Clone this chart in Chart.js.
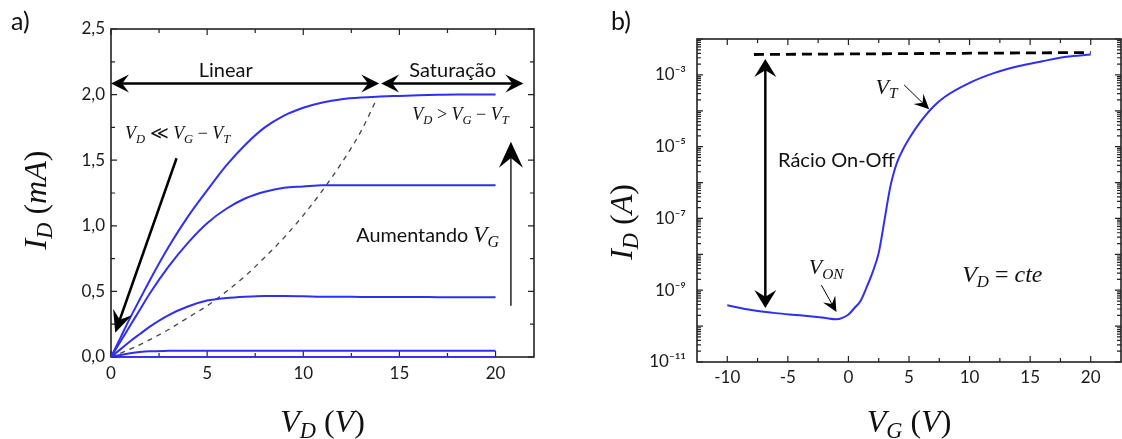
<!DOCTYPE html>
<html>
<head>
<meta charset="utf-8">
<script src="https://cdn.jsdelivr.net/npm/chart.js@4"></script>
<style>
    body { margin: 0; background: #fff; }
    .panel { position: absolute; top: 0; width: 561px; height: 439px; }
    #panel-a { left: 0; }
    #panel-b { left: 561px; }
</style>
</head>
<body>
<div class="panel" id="panel-a"><canvas id="output-chart"></canvas></div>
<div class="panel" id="panel-b"><canvas id="transfer-chart"></canvas></div>
<script>
// Panel a) - output curves I_D (mA) vs V_D (V), one per gate voltage
const vdValues = [0, 0.5, 1, 1.5, 2, 3, 4, 5, 6, 7, 8, 9, 10, 11, 12, 13, 14, 15, 16, 17, 18, 19, 20];
const idVg1 = [0, 0.15, 0.30, 0.44, 0.58, 0.84, 1.07, 1.27, 1.46, 1.62, 1.75, 1.84, 1.90, 1.94, 1.965, 1.978, 1.985, 1.99, 1.995, 1.998, 2.0, 2.0, 2.0];
const idVg2 = [0, 0.12, 0.24, 0.36, 0.48, 0.69, 0.87, 1.02, 1.13, 1.21, 1.26, 1.29, 1.30, 1.31, 1.31, 1.31, 1.31, 1.31, 1.31, 1.31, 1.31, 1.31, 1.31];
const idVg3 = [0, 0.06, 0.12, 0.175, 0.23, 0.32, 0.385, 0.43, 0.45, 0.46, 0.465, 0.465, 0.463, 0.46, 0.46, 0.458, 0.458, 0.457, 0.457, 0.456, 0.456, 0.455, 0.455];
const idVg4 = [0, 0.015, 0.028, 0.038, 0.044, 0.047, 0.048, 0.048, 0.048, 0.048, 0.048, 0.048, 0.048, 0.048, 0.048, 0.048, 0.047, 0.047, 0.047, 0.047, 0.047, 0.047, 0.047];
const idVg5 = [0, 0, 0, 0, 0, 0, 0, 0, 0, 0, 0, 0, 0, 0, 0, 0, 0, 0, 0, 0, 0, 0, 0];

// Saturation boundary (dashed)
const vdBoundary = [0, 1, 2, 3, 4, 5, 6, 7, 8, 9, 10, 11, 12, 13, 13.8];
const idBoundary = [0, 0.06, 0.13, 0.21, 0.30, 0.39, 0.50, 0.62, 0.76, 0.91, 1.08, 1.27, 1.48, 1.72, 1.96];

// Panel b) - transfer curve I_D (A) vs V_G (V), V_D constant
const vgValues = [-10, -8, -6, -4, -2, -1, -0.5, 0, 0.5, 1, 1.5, 2, 2.5, 3, 3.25, 3.5, 3.75, 4, 4.5, 5, 6, 7, 8, 10, 12, 14, 16, 18, 20];
const idTransfer = [3.8e-10, 2.8e-10, 2.3e-10, 2.0e-10, 1.7e-10, 1.55e-10, 1.7e-10, 2.1e-10, 3.2e-10, 5.0e-10, 1.2e-9, 3.2e-9, 1.1e-8, 1.0e-7, 3.2e-7, 8.9e-7, 1.9e-6, 3.55e-6, 8.3e-6, 1.66e-5, 5.2e-5, 1.3e-4, 2.5e-4, 6.0e-4, 1.12e-3, 1.74e-3, 2.4e-3, 3.2e-3, 3.7e-3];

// On-current level (dashed)
const vgOnLevel = [-7.8, 20];
const idOnLevel = [3.7e-3, 4.2e-3];

// Tick values
const xTicksA = [0, 5, 10, 15, 20];
const xMinorA = [2.5, 7.5, 12.5, 17.5];
const yTicksA = [0, 0.5, 1, 1.5, 2, 2.5];
const yMinorA = [0.25, 0.75, 1.25, 1.75, 2.25];
const xTicksB = [-10, -5, 0, 5, 10, 15, 20];
const xMinorB = [-7.5, -2.5, 2.5, 7.5, 12.5, 17.5];
const yDecadesB = [1e-11, 1e-10, 1e-9, 1e-8, 1e-7, 1e-6, 1e-5, 1e-4, 1e-3, 1e-2];
const yLabelledExpB = [-11, -9, -7, -5, -3];

const BLUE = '#2f2ff2';
const TICK_FONT = { family: 'Lato, "Noto Sans", "DejaVu Sans"', size: 17 };
const SERIF = '"Liberation Serif", "DejaVu Serif", serif';
const SANS = 'Lato, "Noto Sans", sans-serif';

const SUP = { '-': '\u207B', '0': '\u2070', '1': '\u00B9', '2': '\u00B2', '3': '\u00B3', '4': '\u2074', '5': '\u2075', '6': '\u2076', '7': '\u2077', '8': '\u2078', '9': '\u2079' };

function toPoints(xs, ys) {
    return xs.map((x, i) => ({ x: x, y: ys[i] }));
}

// Concave (barbed) arrow head with tip at (x, y)
function arrowHead(ctx, x, y, ang, len, half) {
    const c = Math.cos(ang), s = Math.sin(ang);
    const bx = x - len * c, by = y - len * s;
    const mx = x - len * 0.62 * c, my = y - len * 0.62 * s;
    ctx.beginPath();
    ctx.moveTo(x, y);
    ctx.lineTo(bx - s * half, by + c * half);
    ctx.lineTo(mx, my);
    ctx.lineTo(bx + s * half, by - c * half);
    ctx.closePath();
    ctx.fill();
}

function arrow(ctx, x1, y1, x2, y2, lw, len, half, both) {
    const ang = Math.atan2(y2 - y1, x2 - x1);
    const c = Math.cos(ang), s = Math.sin(ang);
    const cut = len * 0.6;
    ctx.lineWidth = lw;
    ctx.beginPath();
    ctx.moveTo(both ? x1 + c * cut : x1, both ? y1 + s * cut : y1);
    ctx.lineTo(x2 - c * cut, y2 - s * cut);
    ctx.stroke();
    arrowHead(ctx, x2, y2, ang, len, half);
    if (both) arrowHead(ctx, x1, y1, ang + Math.PI, len, half);
}

// Mixed text: [text, style] with style i = italic serif, s = italic subscript, r = upright serif, n = sans
function richText(ctx, parts, x, yc, size, align) {
    const fontFor = st => st === 's' ? 'italic ' + (size * 0.7) + 'px ' + SERIF
        : st === 'r' ? size + 'px ' + SERIF
        : st === 'n' ? (size * 0.86) + 'px ' + SANS
        : 'italic ' + size + 'px ' + SERIF;
    let w = 0;
    parts.forEach(p => { ctx.font = fontFor(p[1]); w += ctx.measureText(p[0]).width; });
    let cx = align === 'center' ? x - w / 2 : (align === 'right' ? x - w : x);
    const base = yc + size * 0.33;
    ctx.textAlign = 'left';
    ctx.textBaseline = 'alphabetic';
    parts.forEach(p => {
        ctx.font = fontFor(p[1]);
        ctx.fillText(p[0], cx, p[1] === 's' ? base + size * 0.2 : base);
        cx += ctx.measureText(p[0]).width;
    });
}

function sansText(ctx, text, x, yc, size, align) {
    ctx.font = size + 'px ' + SANS;
    ctx.textAlign = align;
    ctx.textBaseline = 'middle';
    ctx.fillText(text, x, yc);
}

// Frame on all four sides with inward ticks
function frameTicksPlugin(xMajor, xMinor, yMajor, yMinor) {
    return {
        id: 'frameTicks',
        beforeDatasetsDraw(chart) {
            const ctx = chart.ctx, a = chart.chartArea;
            const xs = chart.scales.x, ys = chart.scales.y;
            ctx.save();
            ctx.strokeStyle = '#222';
            ctx.lineWidth = 1.6;
            ctx.strokeRect(a.left, a.top, a.right - a.left, a.bottom - a.top);
            ctx.lineWidth = 1.2;
            const markX = (vals, len) => vals.forEach(v => {
                const p = xs.getPixelForValue(v);
                ctx.beginPath();
                ctx.moveTo(p, a.bottom); ctx.lineTo(p, a.bottom - len);
                ctx.moveTo(p, a.top); ctx.lineTo(p, a.top + len);
                ctx.stroke();
            });
            const markY = (vals, len) => vals.forEach(v => {
                const p = ys.getPixelForValue(v);
                ctx.beginPath();
                ctx.moveTo(a.left, p); ctx.lineTo(a.left + len, p);
                ctx.moveTo(a.right, p); ctx.lineTo(a.right - len, p);
                ctx.stroke();
            });
            markX(xMajor, 6); markX(xMinor, 4);
            markY(yMajor, 6); markY(yMinor, 4);
            ctx.restore();
        }
    };
}

function notesPlugin(draw) {
    return {
        id: 'notes',
        afterDatasetsDraw(chart) {
            const ctx = chart.ctx;
            ctx.save();
            ctx.fillStyle = '#000';
            ctx.strokeStyle = '#000';
            const P = (x, y) => [chart.scales.x.getPixelForValue(x), chart.scales.y.getPixelForValue(y)];
            draw(ctx, P, chart);
            ctx.restore();
        }
    };
}

function curve(data, width) {
    return {
        data: data,
        borderColor: BLUE,
        borderWidth: width,
        pointRadius: 0,
        fill: false,
        cubicInterpolationMode: 'monotone'
    };
}

// Create output characteristics chart (panel a)
function createOutputChart() {
    const ctx = document.getElementById('output-chart').getContext('2d');

    const notes = notesPlugin(function(ctx, P) {
        let [x1, y1] = P(0, 2.085);
        let [x2] = P(13.95, 2.085);
        arrow(ctx, x1, y1, x2, y1, 2.5, 18, 9, true);
        [x1] = P(14.05, 2.085);
        [x2] = P(21.45, 2.085);
        arrow(ctx, x1, y1, x2, y1, 2.5, 18, 9, true);

        ctx.fillStyle = '#111';
        let p = P(5.97, 2.18);
        sansText(ctx, 'Linear', p[0], p[1], 20, 'center');
        p = P(17.77, 2.18);
        sansText(ctx, 'Saturação', p[0], p[1], 20, 'center');

        p = P(0.73, 1.705);
        richText(ctx, [['V', 'i'], ['D', 's'], [' \u226A ', 'r'], ['V', 'i'], ['G', 's'], [' \u2212 ', 'r'], ['V', 'i'], ['T', 's']], p[0], p[1], 18, 'left');
        p = P(15.67, 1.85);
        richText(ctx, [['V', 'i'], ['D', 's'], [' > ', 'r'], ['V', 'i'], ['G', 's'], [' \u2212 ', 'r'], ['V', 'i'], ['T', 's']], p[0], p[1], 18, 'left');

        ctx.fillStyle = '#000';
        let a = P(3.41, 1.515), b = P(0.22, 0.185);
        arrow(ctx, a[0], a[1], b[0], b[1], 2.5, 22, 10, false);
        a = P(20.8, 0.39); b = P(20.8, 1.64);
        arrow(ctx, a[0], a[1], b[0], b[1], 1.3, 26, 12, false);

        ctx.fillStyle = '#111';
        p = P(12.76, 0.934);
        richText(ctx, [['Aumentando ', 'n'], ['V', 'i'], ['G', 's']], p[0], p[1], 23, 'left');

        // panel label and axis titles
        sansText(ctx, 'a)', 11, 22, 25, 'left');
        richText(ctx, [['V', 'i'], ['D', 's'], [' (', 'r'], ['V', 'i'], [')', 'r']], 322.5, 421, 32, 'center');
        ctx.translate(35, 200);
        ctx.rotate(-Math.PI / 2);
        richText(ctx, [['I', 'i'], ['D', 's'], [' (', 'r'], ['mA', 'i'], [')', 'r']], 0, 0, 32, 'center');
    });

    const config = {
        type: 'line',
        data: {
            datasets: [
                curve(toPoints(vdValues, idVg1), 2),
                curve(toPoints(vdValues, idVg2), 2),
                curve(toPoints(vdValues, idVg3), 2),
                curve(toPoints(vdValues, idVg4), 2),
                curve(toPoints(vdValues, idVg5), 2),
                {
                    data: toPoints(vdBoundary, idBoundary),
                    borderColor: '#444',
                    borderWidth: 1.3,
                    borderDash: [5, 5],
                    pointRadius: 0,
                    fill: false,
                    cubicInterpolationMode: 'monotone'
                }
            ]
        },
        options: {
            responsive: true,
            maintainAspectRatio: false,
            animation: false,
            layout: { padding: { left: 0, right: 27, top: 29, bottom: 0 } },
            plugins: { legend: { display: false }, tooltip: { enabled: false } },
            scales: {
                x: {
                    type: 'linear',
                    min: 0,
                    max: 22,
                    afterBuildTicks: s => { s.ticks = xTicksA.map(v => ({ value: v })); },
                    afterFit: s => { s.height = 82; },
                    grid: { display: false, drawTicks: false },
                    border: { display: false },
                    ticks: { padding: 6, font: TICK_FONT, color: '#1a1a1a', autoSkip: false, maxRotation: 0,
                        callback: v => String(v) }
                },
                y: {
                    type: 'linear',
                    min: 0,
                    max: 2.5,
                    afterBuildTicks: s => { s.ticks = yTicksA.map(v => ({ value: v })); },
                    afterFit: s => { s.width = 111; },
                    grid: { display: false, drawTicks: false },
                    border: { display: false },
                    ticks: { padding: 6, font: TICK_FONT, color: '#1a1a1a', autoSkip: false,
                        callback: v => v.toFixed(1).replace('.', ',') }
                }
            }
        },
        plugins: [frameTicksPlugin(xTicksA, xMinorA, yTicksA, yMinorA), notes]
    };

    new Chart(ctx, config);
}

// Create transfer characteristics chart (panel b)
function createTransferChart() {
    const ctx = document.getElementById('transfer-chart').getContext('2d');

    const yMinorB = [];
    yDecadesB.slice(0, -1).forEach(d => {
        for (let k = 2; k <= 9; k++) yMinorB.push(d * k);
    });

    const notes = notesPlugin(function(ctx, P) {
        let a = P(-6.86, 2.75e-3), b = P(-6.86, 3.2e-10);
        arrow(ctx, b[0], b[1], a[0], a[1], 2.5, 18, 11, true);

        ctx.fillStyle = '#111';
        let p = P(-5.81, Math.pow(10, -5.38));
        sansText(ctx, 'Rácio On-Off', p[0], p[1], 20, 'left');

        p = P(3.14, Math.pow(10, -3.32));
        richText(ctx, [['V', 'i'], ['T', 's']], p[0], p[1], 22, 'center');
        ctx.fillStyle = '#000';
        a = P(4.6, Math.pow(10, -3.28)); b = P(6.67, Math.pow(10, -3.96));
        arrow(ctx, a[0], a[1], b[0], b[1], 1, 15, 7, false);

        ctx.fillStyle = '#111';
        p = P(-1.84, Math.pow(10, -8.35));
        richText(ctx, [['V', 'i'], ['ON', 's']], p[0], p[1], 22, 'center');
        ctx.fillStyle = '#000';
        a = P(-2.23, Math.pow(10, -8.86)); b = P(-0.99, Math.pow(10, -9.61));
        arrow(ctx, a[0], a[1], b[0], b[1], 1, 15, 7, false);

        ctx.fillStyle = '#111';
        p = P(9.39, Math.pow(10, -8.55));
        richText(ctx, [['V', 'i'], ['D', 's'], [' = ', 'r'], ['cte', 'i']], p[0], p[1], 24, 'left');

        sansText(ctx, 'b)', 50, 22, 25, 'left');
        richText(ctx, [['V', 'i'], ['G', 's'], [' (', 'r'], ['V', 'i'], [')', 'r']], 348, 421, 32, 'center');
        ctx.translate(60, 222);
        ctx.rotate(-Math.PI / 2);
        richText(ctx, [['I', 'i'], ['D', 's'], [' (', 'r'], ['A', 'i'], [')', 'r']], 0, 0, 32, 'center');
    });

    const config = {
        type: 'line',
        data: {
            datasets: [
                curve(toPoints(vgValues, idTransfer), 2),
                {
                    data: toPoints(vgOnLevel, idOnLevel),
                    borderColor: '#000',
                    borderWidth: 2.8,
                    borderDash: [10, 6],
                    pointRadius: 0,
                    fill: false
                }
            ]
        },
        options: {
            responsive: true,
            maintainAspectRatio: false,
            animation: false,
            layout: { padding: { left: 0, right: 1, top: 39, bottom: 0 } },
            plugins: { legend: { display: false }, tooltip: { enabled: false } },
            scales: {
                x: {
                    type: 'linear',
                    min: -12.5,
                    max: 22.5,
                    afterBuildTicks: s => { s.ticks = xTicksB.map(v => ({ value: v })); },
                    afterFit: s => { s.height = 77; },
                    grid: { display: false, drawTicks: false },
                    border: { display: false },
                    ticks: { padding: 5, font: TICK_FONT, color: '#1a1a1a', autoSkip: false, maxRotation: 0,
                        callback: v => String(v) }
                },
                y: {
                    type: 'logarithmic',
                    min: 1e-11,
                    max: 1e-2,
                    afterBuildTicks: s => { s.ticks = yDecadesB.map(v => ({ value: v })); },
                    afterFit: s => { s.width = 136; },
                    grid: { display: false, drawTicks: false },
                    border: { display: false },
                    ticks: { padding: 11, font: TICK_FONT, color: '#1a1a1a', autoSkip: false,
                        callback: function(v) {
                            const e = Math.round(Math.log10(v));
                            if (yLabelledExpB.indexOf(e) < 0) return '';
                            return '10' + String(e).split('').map(ch => SUP[ch]).join('');
                        } }
                }
            }
        },
        plugins: [frameTicksPlugin(xTicksB, xMinorB, yDecadesB, yMinorB), notes]
    };

    new Chart(ctx, config);
}

createOutputChart();
createTransferChart();
</script>
</body>
</html>
